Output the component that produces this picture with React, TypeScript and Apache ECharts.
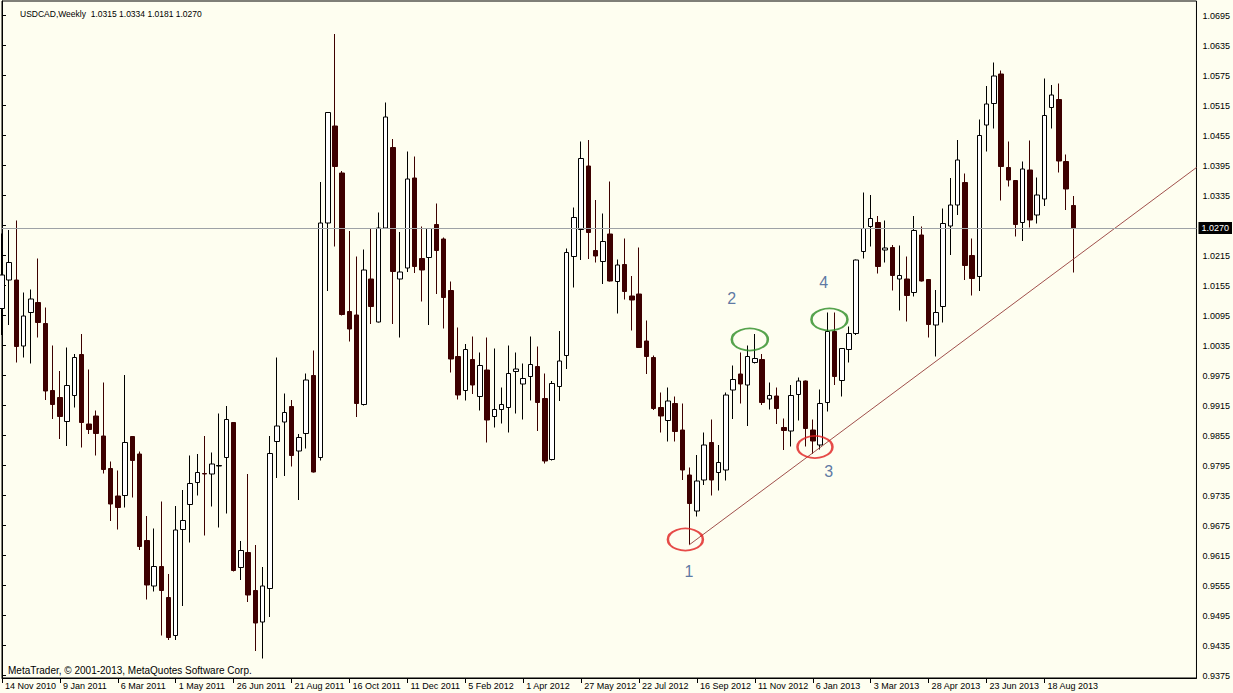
import React, { useEffect, useRef } from "react";
import * as echarts from "echarts";

// ---- data -----------------------------------------------------------------
const dateLabels = [
  "14 Nov 2010", "9 Jan 2011", "6 Mar 2011", "1 May 2011", "26 Jun 2011",
  "21 Aug 2011", "16 Oct 2011", "11 Dec 2011", "5 Feb 2012", "1 Apr 2012",
  "27 May 2012", "22 Jul 2012", "16 Sep 2012", "11 Nov 2012", "6 Jan 2013",
  "3 Mar 2013", "28 Apr 2013", "23 Jun 2013", "18 Aug 2013",
];

const opens = [
  1.0109, 1.0166, 1.0166, 1.0034, 1.0101, 1.0121, 1.0079, 0.9945, 0.9931, 0.9883,
  0.9935, 1.0017, 0.9878, 0.9894, 0.9854, 0.9789, 0.9734, 0.9735, 0.9853, 0.9818,
  0.9645, 0.9554, 0.9593, 0.9531, 0.9455, 0.9667, 0.9717, 0.9761, 0.9779, 0.9778,
  0.9794, 0.9811, 0.9881, 0.9591, 0.9621, 0.9545, 0.9482, 0.9549, 0.9843, 0.9882,
  0.9913, 0.9824, 0.9859, 0.9975, 0.9811, 1.0280, 1.0474, 1.0380, 1.0103, 1.0096,
  0.9917, 1.0168, 1.0082, 1.0270, 1.0431, 1.0168, 1.0190, 1.0370, 1.0209, 1.0211,
  1.0277, 1.0248, 1.0145, 1.0013, 0.9945, 1.0007, 0.9933, 0.9986, 0.9893, 0.9907,
  0.9911, 0.9983, 0.9958, 0.9973, 0.9993, 0.9929, 0.9807, 0.9953, 1.0015, 1.0213,
  1.0267, 1.0394, 1.0225, 1.0203, 1.0258, 1.0163, 1.0197, 1.0134, 1.0138, 1.0044,
  1.0011, 0.9911, 0.9885, 0.9919, 0.9866, 0.9776, 0.9704, 0.9766, 0.9841, 0.9781,
  0.9786, 0.9946, 0.9978, 0.9956, 1.0001, 1.0007, 0.9928, 0.9934, 0.9871, 0.9864,
  0.9937, 0.9964, 0.9866, 0.9836, 0.9921, 1.0063, 0.9965, 1.0027, 1.0059, 1.0223,
  1.0273, 1.0281, 1.0226, 1.0231, 1.0168, 1.0168, 1.0141, 1.0256, 1.0167, 1.0076,
  1.0113, 1.0274, 1.0316, 1.0361, 1.0215, 1.0173, 1.0476, 1.0519, 1.0578, 1.0391,
  1.0365, 1.0281, 1.0386, 1.0296, 1.0328, 1.0511, 1.0527, 1.0403, 1.0315,
];

const closes = [
  1.0176, 1.0201, 1.0033, 1.0094, 1.0128, 1.0081, 0.9944, 0.9917, 0.9893, 0.9955,
  1.0011, 0.9881, 0.9867, 0.9859, 0.9787, 0.9718, 0.9711, 0.9841, 0.9805, 0.9633,
  0.9556, 0.9593, 0.9545, 0.9451, 0.9666, 0.9685, 0.9759, 0.9781, 0.9778, 0.9798,
  0.9795, 0.9887, 0.9585, 0.9625, 0.9536, 0.9480, 0.9554, 0.9819, 0.9874, 0.9901,
  0.9815, 0.9851, 0.9966, 0.9782, 1.0280, 1.0501, 1.0393, 1.0097, 1.0068, 0.9919,
  1.0186, 1.0113, 1.0270, 1.0492, 1.0183, 1.0182, 1.0368, 1.0193, 1.0186, 1.0269,
  1.0225, 1.0131, 1.0008, 0.9936, 1.0027, 0.9956, 0.9995, 0.9886, 0.9907, 0.9917,
  0.9979, 0.9988, 0.9969, 0.9997, 0.9921, 0.9804, 0.9959, 1.0004, 1.0221, 1.0291,
  1.0409, 1.0261, 1.0214, 1.0243, 1.0164, 1.0196, 1.0143, 1.0126, 1.0031, 1.0013,
  0.9909, 0.9894, 0.9924, 0.9863, 0.9786, 0.9719, 0.9764, 0.9836, 0.9766, 0.9801,
  0.9936, 0.9967, 0.9958, 1.0013, 1.0009, 0.9921, 0.9935, 0.9909, 0.9865, 0.9935,
  0.9964, 0.9869, 0.9844, 0.9919, 1.0063, 0.9973, 1.0029, 1.0059, 1.0206, 1.0269,
  1.0289, 1.0193, 1.0230, 1.0175, 1.0175, 1.0135, 1.0265, 1.0164, 1.0077, 1.0101,
  1.0279, 1.0316, 1.0406, 1.0195, 1.0169, 1.0455, 1.0518, 1.0574, 1.0393, 1.0366,
  1.0277, 1.0388, 1.0286, 1.0336, 1.0495, 1.0536, 1.0404, 1.0348, 1.0270,
];

const highs = [
  1.0259, 1.0266, 1.0285, 1.0141, 1.0147, 1.0209, 1.0111, 1.0035, 0.9984, 1.0031,
  1.0018, 1.0058, 0.9987, 0.9905, 0.9961, 0.9803, 0.9785, 0.9976, 0.9853, 0.9823,
  0.9694, 0.9669, 0.9723, 0.9578, 0.9714, 0.9746, 0.9815, 0.9818, 0.9854, 0.9821,
  0.9899, 0.9914, 0.9882, 0.9644, 0.9778, 0.9636, 0.9592, 0.9854, 1.0011, 0.9939,
  0.9926, 0.9858, 0.9979, 1.0025, 1.0362, 1.0502, 1.0658, 1.0384, 1.0264, 1.0213,
  1.0227, 1.0268, 1.0301, 1.0521, 1.0448, 1.0262, 1.0423, 1.0413, 1.0273, 1.0270,
  1.0319, 1.0251, 1.0163, 1.0071, 1.0038, 1.0053, 1.0021, 1.0051, 1.0029, 0.9951,
  1.0035, 1.0021, 0.9999, 1.0053, 1.0033, 0.9979, 0.9964, 1.0064, 1.0229, 1.0311,
  1.0443, 1.0446, 1.0326, 1.0299, 1.0363, 1.0207, 1.0249, 1.0174, 1.0231, 1.0085,
  1.0015, 0.9941, 0.9951, 0.9933, 0.9919, 0.9791, 0.9816, 0.9861, 0.9887, 0.9836,
  0.9941, 0.9995, 1.0021, 1.0035, 1.0058, 1.0018, 0.9961, 0.9951, 0.9889, 0.9956,
  0.9971, 0.9965, 0.9887, 0.9947, 1.0101, 1.0101, 1.0030, 1.0073, 1.0207, 1.0341,
  1.0336, 1.0294, 1.0285, 1.0236, 1.0235, 1.0213, 1.0294, 1.0273, 1.0168, 1.0146,
  1.0309, 1.0370, 1.0446, 1.0379, 1.0249, 1.0487, 1.0554, 1.0601, 1.0585, 1.0443,
  1.0366, 1.0403, 1.0445, 1.0371, 1.0569, 1.0556, 1.0559, 1.0417, 1.0334,
];

const lows = [
  1.0056, 1.0076, 1.0001, 1.0011, 0.9999, 1.0051, 0.9926, 0.9888, 0.9848, 0.9834,
  0.9911, 0.9831, 0.9858, 0.9815, 0.9779, 0.9684, 0.9667, 0.9711, 0.9731, 0.9626,
  0.9527, 0.9543, 0.9455, 0.9446, 0.9446, 0.9514, 0.9641, 0.9735, 0.9655, 0.9713,
  0.9671, 0.9699, 0.9583, 0.9566, 0.9522, 0.9424, 0.9409, 0.9492, 0.9770, 0.9774,
  0.9793, 0.9726, 0.9829, 0.9781, 0.9805, 1.0144, 1.0233, 1.0095, 1.0043, 0.9892,
  0.9915, 1.0078, 1.0081, 1.0269, 1.0078, 1.0051, 1.0182, 1.0180, 1.0123, 1.0076,
  1.0138, 1.0069, 0.9981, 0.9927, 0.9925, 0.9938, 0.9905, 0.9841, 0.9871, 0.9879,
  0.9861, 0.9899, 0.9887, 0.9925, 0.9864, 0.9799, 0.9805, 0.9924, 0.9988, 1.0151,
  1.0206, 1.0208, 1.0201, 1.0158, 1.0163, 1.0099, 1.0127, 1.0065, 1.0030, 0.9978,
  0.9906, 0.9861, 0.9843, 0.9843, 0.9766, 0.9636, 0.9693, 0.9756, 0.9735, 0.9745,
  0.9765, 0.9888, 0.9919, 0.9874, 0.9999, 0.9916, 0.9907, 0.9878, 0.9826, 0.9833,
  0.9885, 0.9833, 0.9818, 0.9827, 0.9903, 0.9956, 0.9933, 1.0001, 1.0056, 1.0209,
  1.0233, 1.0179, 1.0201, 1.0145, 1.0105, 1.0083, 1.0133, 1.0163, 1.0051, 1.0013,
  1.0081, 1.0216, 1.0296, 1.0166, 1.0135, 1.0144, 1.0423, 1.0469, 1.0325, 1.0353,
  1.0253, 1.0244, 1.0271, 1.0279, 1.0314, 1.0469, 1.0381, 1.0306, 1.0181,
];

const priceTicks = [
  0.9375, 0.9435, 0.9495, 0.9555, 0.9615, 0.9675, 0.9735, 0.9795, 0.9855, 0.9915,
  0.9975, 1.0035, 1.0095, 1.0155, 1.0215, 1.0275, 1.0335, 1.0395, 1.0455, 1.0515,
  1.0575, 1.0635, 1.0695,
];

// trend line (week index, price) and wave annotations
const trendLine = [[94.9, 0.9636], [165, 1.0391]];
const redEllipses = [[94.4, 0.9647], [112.3, 0.9832]];
const greenEllipses = [[103.3, 1.0047], [114.3, 1.0087]];
const waveNames = ["1", "2", "3", "4"];
const wavePoints = [[94.9, 0.9584], [100.8, 1.0129], [114.2, 0.9783], [113.5, 1.0161]];

// ---- chart ----------------------------------------------------------------
const SLOTS = 166;
const BG = "#FEFEF0";
const FONT = "Liberation Sans, Arial, sans-serif";

const last = opens.length - 1;
const lastClose = closes[last];
const header = `USDCAD,Weekly  ${opens[last].toFixed(4)} ${highs[last].toFixed(4)} ${lows[last].toFixed(4)} ${closes[last].toFixed(4)}`;

const slots = Array.from({ length: SLOTS }, (_, i) => String(i));
const candles = opens.map((o, i) => [o, closes[i], lows[i], highs[i]]);
const priceLabels = priceTicks.filter((v) => Math.abs(v - lastClose) > 0.001);
const showDate = (i: number) => i % 8 === 0 && i / 8 < dateLabels.length;

const option: any = {
  animation: false,
  backgroundColor: BG,
  title: [
    {
      text: header,
      left: 15,
      top: 4,
      textStyle: { fontSize: 8.5, fontWeight: "normal", color: "#000", fontFamily: FONT },
    },
    {
      text: "MetaTrader, © 2001-2013, MetaQuotes Software Corp.",
      left: 3,
      top: 660,
      textStyle: { fontSize: 10, fontWeight: "normal", color: "#000", fontFamily: FONT },
    },
  ],
  grid: {
    left: 2,
    right: 36,
    top: 1,
    bottom: 15,
    show: true,
    borderColor: "#000",
    borderWidth: 1,
    backgroundColor: BG,
  },
  xAxis: [
    {
      type: "category",
      data: slots,
      boundaryGap: false,
      axisLine: { show: true, lineStyle: { color: "#000", width: 1 } },
      axisTick: {
        show: true,
        interval: (i: number) => showDate(i),
        length: 5,
        lineStyle: { color: "#000" },
      },
      axisLabel: {
        interval: (i: number) => showDate(i),
        formatter: (_v: string, i: number) => (showDate(i) ? dateLabels[i / 8] : ""),
        align: "left",
        padding: [0, 0, 0, 3],
        margin: 3,
        fontSize: 9,
        color: "#000",
        fontFamily: FONT,
      },
      splitLine: { show: false },
    },
    {
      type: "value",
      min: 0,
      max: SLOTS - 1,
      show: false,
    },
  ],
  yAxis: {
    type: "value",
    position: "right",
    min: 0.937,
    max: 1.0724,
    scale: true,
    splitLine: { show: false },
    axisLine: { show: true, lineStyle: { color: "#000", width: 1 } },
    axisTick: {
      show: true,
      customValues: priceTicks,
      length: 4,
      lineStyle: { color: "#000" },
    },
    axisLabel: {
      customValues: priceLabels,
      formatter: (v: number) => v.toFixed(4),
      fontSize: 9,
      color: "#000",
      margin: 6,
      fontFamily: FONT,
    },
  },
  series: [
    {
      type: "candlestick",
      xAxisIndex: 0,
      data: candles,
      barWidth: 5,
      itemStyle: {
        color: "#FFFFFF",
        color0: "#3D0000",
        borderColor: "#000000",
        borderColor0: "#3D0000",
        borderWidth: 1,
      },
      markLine: {
        silent: true,
        precision: 4,
        symbol: ["none", "none"],
        data: [
          {
            yAxis: lastClose,
            lineStyle: { color: "#9EA2A6", width: 1, type: "solid" },
            label: {
              show: true,
              position: "end",
              formatter: lastClose.toFixed(4),
              backgroundColor: "#000",
              color: "#fff",
              padding: [2, 3, 1, 3],
              fontSize: 9,
              distance: 2,
              fontFamily: FONT,
            },
          },
        ],
      },
    },
    {
      type: "line",
      xAxisIndex: 1,
      data: trendLine,
      symbol: "none",
      silent: true,
      lineStyle: { color: "#A0504C", width: 1 },
      z: 3,
    },
    {
      type: "scatter",
      xAxisIndex: 1,
      data: redEllipses,
      symbol: "circle",
      symbolSize: [35, 22],
      silent: true,
      itemStyle: { color: "rgba(0,0,0,0)", borderColor: "#E01E1E", borderWidth: 2 },
      z: 4,
    },
    {
      type: "scatter",
      xAxisIndex: 1,
      data: greenEllipses,
      symbol: "circle",
      symbolSize: [36, 22],
      silent: true,
      itemStyle: { color: "rgba(0,0,0,0)", borderColor: "#2C8C24", borderWidth: 2 },
      z: 4,
    },
    {
      type: "scatter",
      xAxisIndex: 1,
      data: wavePoints.map((p, i) => ({ name: waveNames[i], value: p })),
      symbol: "circle",
      symbolSize: 1,
      silent: true,
      itemStyle: { color: "rgba(0,0,0,0)" },
      label: {
        show: true,
        position: "inside",
        formatter: "{b}",
        color: "#33558F",
        fontSize: 16,
        fontFamily: FONT,
      },
      z: 5,
    },
  ],
};

export default function App() {
  const ref = useRef<HTMLDivElement>(null);
  useEffect(() => {
    document.body.style.margin = "0";
    document.body.style.background = BG;
    const chart = echarts.init(ref.current as HTMLDivElement, null, { renderer: "svg" });
    chart.setOption(option);
    return () => chart.dispose();
  }, []);
  return (
    <div
      ref={ref}
      style={{ position: "absolute", left: 0, top: 0, width: 1233, height: 693 }}
    />
  );
}
